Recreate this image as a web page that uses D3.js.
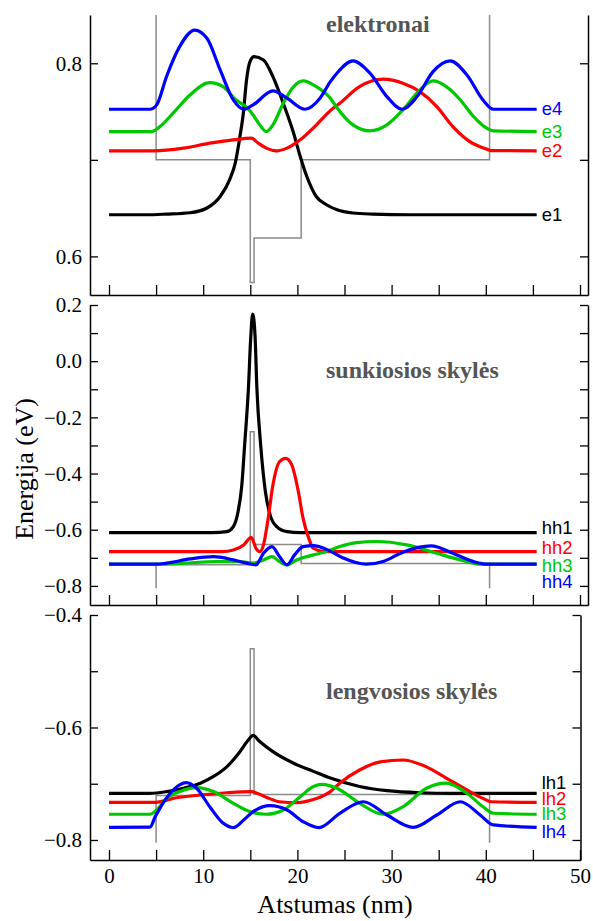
<!DOCTYPE html>
<html>
<head>
<meta charset="utf-8">
<script src="https://cdn.jsdelivr.net/npm/d3@7"></script>
<style>
  body { margin: 0; background: #fff; }
  svg { display: block; }
  .serif { font-family: "Liberation Serif", "Times New Roman", serif; }
  .sans { font-family: "Liberation Sans", Arial, sans-serif; }
</style>
</head>
<body>
<svg id="chart" width="593" height="921"></svg>
<script>
// ---- Energy levels and wavefunction profiles, [x (nm), E (eV)] ----
const e1 = [[0,0.6431],[4,0.6431],[6.1,0.6438],[8.6,0.6452],[10.4,0.6501],[11.8,0.6620],[12.8,0.6793],[13.4,0.6965],[13.9,0.7241],[14.26,0.7483],[14.6,0.7827],[14.97,0.8017],[15.4,0.8068],[16.4,0.8034],[17.4,0.7861],[18.5,0.7586],[19.6,0.7276],[20.3,0.7034],[21,0.6827],[22,0.6620],[23,0.6540],[24.2,0.6483],[25.9,0.6449],[28,0.6438],[32,0.6431],[45.4,0.6431]];
const e2 = [[0,0.7093],[4.7,0.7093],[7.9,0.7121],[10.7,0.7173],[13.2,0.7207],[15.1,0.7224],[15.85,0.7173],[16.7,0.7121],[17.8,0.7093],[18.9,0.7121],[20.3,0.7207],[22,0.7360],[23.5,0.7510],[24.5,0.7586],[26.6,0.7758],[29.1,0.7835],[31.2,0.7793],[33,0.7706],[34.8,0.7551],[36.5,0.7344],[38.3,0.7189],[40.1,0.7111],[40.6,0.7096],[45.4,0.7093]];
const e3 = [[0,0.7293],[4.5,0.7293],[5.4,0.7344],[6.8,0.7483],[8.6,0.7672],[10.7,0.7799],[12.1,0.7758],[13.5,0.7620],[14.6,0.7545],[15.3,0.7465],[16,0.7362],[16.7,0.7293],[17.4,0.7362],[18.5,0.7586],[19.6,0.7758],[20.6,0.7817],[22,0.7758],[23.5,0.7638],[24.2,0.7540],[25.9,0.7362],[27.7,0.7300],[29.5,0.7362],[31.2,0.7517],[33,0.7724],[34.4,0.7817],[35.8,0.7758],[37.3,0.7620],[38.7,0.7448],[40.1,0.7328],[40.8,0.7300],[45.4,0.7293]];
const e4 = [[0,0.7524],[4.35,0.7524],[5.06,0.7569],[6.1,0.7861],[7.5,0.8172],[9.1,0.8344],[10.4,0.8259],[11.8,0.7931],[13.2,0.7620],[14.3,0.7524],[15.3,0.7569],[17.4,0.7714],[18.9,0.7638],[20.8,0.7524],[22.4,0.7638],[23.5,0.7810],[24.2,0.7897],[25.9,0.8024],[27.7,0.7897],[29.5,0.7655],[31.1,0.7524],[32.7,0.7655],[34.4,0.7913],[36.2,0.8024],[38,0.7879],[39.7,0.7620],[40.8,0.7524],[45.4,0.7524]];

const hh1 = [[0,-0.6103],[11,-0.6103],[12.5,-0.607],[13.2,-0.589],[13.7,-0.536],[14.1,-0.441],[14.4,-0.298],[14.8,-0.097],[15.04,0.08],[15.25,0.168],[15.5,0.093],[15.7,-0.097],[16.1,-0.298],[16.6,-0.464],[17.1,-0.547],[17.8,-0.589],[18.9,-0.607],[20.3,-0.6103],[45.4,-0.6103]];
const hh2 = [[0,-0.678],[12,-0.678],[13.2,-0.672],[14.3,-0.654],[15.1,-0.627],[15.6,-0.666],[16,-0.678],[16.4,-0.654],[16.9,-0.559],[17.4,-0.441],[18.1,-0.358],[18.75,-0.346],[19.4,-0.369],[20.1,-0.464],[20.6,-0.559],[21.2,-0.630],[21.7,-0.666],[22.8,-0.678],[45.4,-0.678]];
const hh3 = [[0,-0.7228],[5,-0.7228],[7.9,-0.719],[11.4,-0.7135],[13.9,-0.7135],[15.3,-0.719],[16.4,-0.7075],[17.3,-0.6957],[18.1,-0.7135],[18.9,-0.725],[19.9,-0.7075],[21,-0.6957],[22.4,-0.6836],[23.5,-0.672],[24.5,-0.660],[26.3,-0.646],[28.4,-0.642],[31.6,-0.654],[34.8,-0.684],[37.3,-0.7075],[39.4,-0.7228],[45.4,-0.7228]];
const hh4 = [[0,-0.7228],[5,-0.7228],[6.1,-0.719],[8.6,-0.704],[11.1,-0.6957],[13.2,-0.7075],[14.6,-0.719],[15.6,-0.725],[16.4,-0.6836],[17.3,-0.660],[18.1,-0.6957],[18.9,-0.725],[19.7,-0.6897],[20.6,-0.660],[21.7,-0.6566],[23.1,-0.670],[24.8,-0.700],[27.3,-0.7228],[29.2,-0.712],[31.2,-0.680],[34.2,-0.6577],[36.5,-0.6836],[38.7,-0.7135],[40.1,-0.7228],[45.4,-0.7228]];

const lh1 = [[0,-0.717],[4.35,-0.717],[6.1,-0.714],[7.9,-0.708],[9.7,-0.699],[11.1,-0.687],[12.5,-0.670],[13.9,-0.643],[14.8,-0.622],[15.3,-0.614],[16,-0.625],[17.4,-0.643],[19.6,-0.6636],[21.7,-0.678],[23.5,-0.690],[26.6,-0.705],[29.5,-0.7124],[33,-0.716],[36.5,-0.717],[45.4,-0.717]];
const lh2 = [[0,-0.733],[5,-0.733],[6.8,-0.726],[9.7,-0.72],[12.5,-0.716],[15.1,-0.714],[16.7,-0.724],[18.1,-0.732],[19.9,-0.7336],[21.7,-0.728],[22.4,-0.724],[23.5,-0.714],[24.5,-0.699],[26.6,-0.6756],[28.8,-0.661],[31.2,-0.6578],[33.7,-0.670],[35.8,-0.690],[38,-0.711],[39.7,-0.726],[40.6,-0.732],[45.4,-0.733]];
const lh3 = [[0,-0.7543],[4.35,-0.7543],[5.06,-0.7467],[6.1,-0.726],[7.5,-0.714],[9.3,-0.707],[11.1,-0.714],[13.2,-0.7348],[15,-0.7497],[16.7,-0.7543],[18.5,-0.7467],[20.3,-0.723],[21.7,-0.705],[22.6,-0.701],[24.2,-0.708],[26.6,-0.7348],[29.1,-0.7543],[31.2,-0.741],[33.7,-0.708],[35.8,-0.699],[38,-0.717],[39.7,-0.741],[40.8,-0.7525],[45.4,-0.7543]];
const lh4 = [[0,-0.7775],[4.35,-0.777],[4.9,-0.7586],[5.4,-0.7437],[6.5,-0.717],[7.5,-0.702],[8.2,-0.698],[9.3,-0.708],[10.7,-0.741],[12.1,-0.770],[13.2,-0.778],[14.3,-0.7644],[15.3,-0.7497],[17.1,-0.739],[18.9,-0.7467],[20.6,-0.7674],[22.3,-0.778],[24.5,-0.7526],[27,-0.732],[29.5,-0.7556],[32.3,-0.7775],[34.8,-0.7556],[37.3,-0.732],[39.4,-0.7556],[40.8,-0.7733],[45.4,-0.7775]];

// ---- Band-edge potential profiles (gray) ----
const elecWell = [[5,0.85],[5,0.7],[15,0.7],[15,0.573],[15.4,0.573],[15.4,0.619],[20.4,0.619],[20.4,0.7],[40.4,0.7],[40.4,0.85]];
const hhWell = [[5,-0.808],[5,-0.725],[15,-0.725],[15,-0.251],[15.4,-0.251],[15.4,-0.653],[20.4,-0.653],[20.4,-0.72],[40.4,-0.72],[40.4,-0.808]];
const lhWell = [[5,-0.805],[5,-0.721],[15,-0.721],[15,-0.46],[15.4,-0.46],[15.4,-0.719],[40.4,-0.719],[40.4,-0.805]];

// ---- Names, titles and ticks ----
const elecNames = ["e1","e2","e3","e4"];
const hhNames = ["hh1","hh2","hh3","hh4"];
const lhNames = ["lh1","lh2","lh3","lh4"];
const panelTitles = ["elektronai","sunkiosios skylės","lengvosios skylės"];
const elecTicks = [0.6,0.7,0.8], elecTickLabels = [0.6,0.8];
const hhTicks = [-0.8,-0.7,-0.6,-0.5,-0.4,-0.3,-0.2,-0.1,0.0,0.1,0.2], hhTickLabels = [-0.8,-0.6,-0.4,-0.2,0.0,0.2];
const lhTicks = [-0.8,-0.7,-0.6,-0.5,-0.4], lhTickLabels = [-0.8,-0.6,-0.4];
const xTicks = [0,5,10,15,20,25,30,35,40,45,50], xTickLabels = [0,10,20,30,40,50];
const xTitle = "Atstumas (nm)";
const yTitle = "Energija (eV)";

const lineColors = ["#000000","#ff0000","#00c800","#0000ff"];

// ---- Layout ----
const svg = d3.select("#chart");
const leftPx = 90;
const xBase = d3.scaleLinear().domain([0,50]).range([109,580]);

const panels = [
  { curves:[e1,e2,e3,e4], names:elecNames, well:elecWell, top:15, bottom:295, right:588, yDomain:[0.56,0.85],
    ticks:elecTicks, labels:elecTickLabels, title:panelTitles[0], titleY:32, labelDy:[6,6,6,6] },
  { curves:[hh1,hh2,hh3,hh4], names:hhNames, well:hhWell, top:305, bottom:605, right:588, yDomain:[-0.868,0.2],
    ticks:hhTicks, labels:hhTickLabels, title:panelTitles[1], titleY:378, labelDy:[1,2,8,23.5] },
  { curves:[lh1,lh2,lh3,lh4], names:lhNames, well:lhWell, top:615, bottom:860, right:580.5, yDomain:[-0.8356,-0.4],
    ticks:lhTicks, labels:lhTickLabels, title:panelTitles[2], titleY:699, labelDy:[-4,2.5,6,10.5], xLabels:true }
];

const fmt = v => d3.format(".1f")(Math.abs(v) < 1e-9 ? 0 : v);
const inList = (list, v) => list.some(t => Math.abs(t - v) < 1e-9);

panels.forEach(p => {
  const x = xBase.copy().domain([xBase.invert(leftPx), xBase.invert(p.right)]).range([leftPx, p.right]);
  const y = d3.scaleLinear().domain(p.yDomain).range([p.bottom, p.top]);
  const g = svg.append("g");

  // potential profile
  g.append("path")
    .datum(p.well)
    .attr("d", d3.line().x(d => x(d[0])).y(d => y(d[1])))
    .attr("fill", "none")
    .attr("stroke", "#8a8a8a")
    .attr("stroke-width", 1.5);

  // wavefunctions
  const line = d3.line().x(d => x(d[0])).y(d => y(d[1])).curve(d3.curveMonotoneX);
  p.curves.forEach((c, i) => {
    g.append("path")
      .datum(c)
      .attr("d", line)
      .attr("fill", "none")
      .attr("stroke", lineColors[i])
      .attr("stroke-width", 3.2)
      .attr("stroke-linejoin", "round");
  });

  // level labels
  p.curves.forEach((c, i) => {
    const last = c[c.length - 1];
    g.append("text")
      .attr("class", "sans")
      .attr("x", x(last[0]) + 5)
      .attr("y", y(last[1]) + p.labelDy[i])
      .attr("fill", lineColors[i])
      .style("font-size", "18.5px")
      .text(p.names[i]);
  });

  // panel title
  g.append("text")
    .attr("class", "serif")
    .attr("x", 326)
    .attr("y", p.titleY)
    .attr("fill", "#555")
    .style("font-weight", "bold")
    .style("font-size", "24px")
    .text(p.title);

  // axes
  const styleAxis = sel => {
    sel.attr("font-family", null).attr("font-size", null);
    sel.selectAll("path.domain").attr("stroke", "#000").attr("stroke-width", 1.5);
    sel.selectAll(".tick line").attr("stroke", "#000").attr("stroke-width", 1.3);
    sel.selectAll("text")
      .style("font-family", "'Liberation Serif', 'Times New Roman', serif")
      .style("font-size", "21px")
      .attr("fill", "#000");
  };

  const yl = g.append("g").attr("transform", `translate(${leftPx},0)`)
    .call(d3.axisLeft(y).tickValues(p.ticks).tickSize(-8).tickSizeOuter(0).tickPadding(8)
      .tickFormat(v => inList(p.labels, v) ? fmt(v) : ""));
  styleAxis(yl);

  const yr = g.append("g").attr("transform", `translate(${p.right},0)`)
    .call(d3.axisRight(y).tickValues(p.ticks).tickSize(-8).tickSizeOuter(0).tickFormat(""));
  styleAxis(yr);

  const xb = g.append("g").attr("transform", `translate(0,${p.bottom})`)
    .call(d3.axisBottom(x).tickValues(xTicks).tickSize(-10).tickSizeOuter(0).tickPadding(8)
      .tickFormat(v => p.xLabels && inList(xTickLabels, v) ? String(v) : ""));
  styleAxis(xb);
});

// axis titles
svg.append("text")
  .attr("class", "serif")
  .attr("x", 335).attr("y", 913)
  .attr("text-anchor", "middle")
  .style("font-size", "26px")
  .text(xTitle);

svg.append("text")
  .attr("class", "serif")
  .attr("transform", "translate(33,469) rotate(-90)")
  .attr("text-anchor", "middle")
  .style("font-size", "26px")
  .text(yTitle);
</script>
</body>
</html>
